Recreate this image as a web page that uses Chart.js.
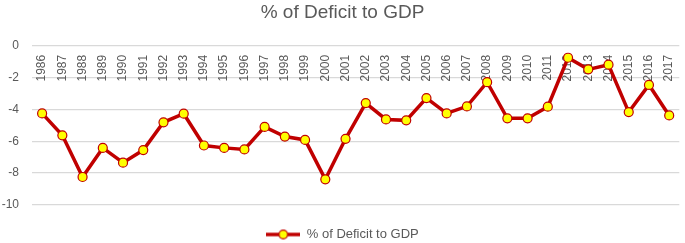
<!DOCTYPE html>
<html>
<head>
<meta charset="utf-8">
<script src="https://cdn.jsdelivr.net/npm/chart.js@4/dist/chart.umd.min.js"></script>
<style>
  html, body { margin: 0; padding: 0; background: #ffffff; }
  #wrap { width: 685px; height: 243px; }
</style>
</head>
<body>
<div id="wrap"><canvas id="c" width="685" height="243"></canvas></div>
<script>
const years = ['1986','1987','1988','1989','1990','1991','1992','1993','1994','1995','1996','1997','1998','1999','2000','2001','2002','2003','2004','2005','2006','2007','2008','2009','2010','2011','2012','2013','2014','2015','2016','2017'];
const deficit = [-4.25,-5.63,-8.25,-6.42,-7.35,-6.56,-4.81,-4.27,-6.27,-6.42,-6.52,-5.10,-5.71,-5.92,-8.40,-5.85,-3.60,-4.63,-4.69,-3.29,-4.25,-3.81,-2.29,-4.56,-4.56,-3.83,-0.75,-1.48,-1.19,-4.17,-2.46,-4.38];
const yTicks = [0, -2, -4, -6, -8, -10];
const seriesName = '% of Deficit to GDP';
const titleText = '% of Deficit to GDP';

const FONT = "'Liberation Sans', Arial, sans-serif";
const TEXT = '#595959';
const LINE = '#c00000';
const MARK = '#ffff00';

// legend symbol: line with marker
const sym = document.createElement('canvas');
sym.width = 34; sym.height = 12;
(function(){
  const g = sym.getContext('2d');
  g.strokeStyle = LINE; g.lineWidth = 3.5;
  g.beginPath(); g.moveTo(0, 6); g.lineTo(34, 6); g.stroke();
  g.beginPath(); g.arc(17, 6, 4.3, 0, Math.PI * 2);
  g.fillStyle = MARK; g.fill();
  g.lineWidth = 1.2; g.strokeStyle = LINE; g.stroke();
})();

const xLabelsPlugin = {
  id: 'xLabelsInside',
  beforeDatasetsDraw(chart) {
    const xs = chart.scales.x, ys = chart.scales.y;
    const ctx = chart.ctx;
    ctx.save();
    ctx.font = '12px ' + FONT;
    ctx.fillStyle = TEXT;
    ctx.textAlign = 'right';
    ctx.textBaseline = 'middle';
    const y0 = ys.getPixelForValue(0) + 9;
    chart.data.labels.forEach((lab, i) => {
      const x = xs.getPixelForValue(i);
      ctx.save();
      ctx.translate(x, y0);
      ctx.rotate(-Math.PI / 2);
      ctx.fillText(lab, 0, 0);
      ctx.restore();
    });
    ctx.restore();
  }
};

new Chart(document.getElementById('c'), {
  type: 'line',
  data: {
    labels: years,
    datasets: [{
      label: seriesName,
      data: deficit,
      borderColor: LINE,
      backgroundColor: MARK,
      borderWidth: 3.5,
      tension: 0,
      pointRadius: 4.5,
      pointHoverRadius: 4.5,
      pointBackgroundColor: MARK,
      pointBorderColor: LINE,
      pointBorderWidth: 1.2,
      pointStyle: 'circle',
      clip: false
    }]
  },
  options: {
    responsive: false,
    animation: false,
    devicePixelRatio: 1,
    layout: { padding: { left: 0, right: 0, top: 0, bottom: -8 } },
    plugins: {
      title: {
        display: true,
        text: titleText,
        color: TEXT,
        font: { family: FONT, size: 19, weight: 'normal' },
        padding: { top: 1, bottom: 22 }
      },
      legend: {
        display: true,
        position: 'bottom',
        labels: {
          color: TEXT,
          font: { family: FONT, size: 13 },
          usePointStyle: true,
          pointStyleWidth: 34,
          padding: 1.2,
          generateLabels(chart) {
            const items = Chart.defaults.plugins.legend.labels.generateLabels(chart);
            items.forEach(it => { it.pointStyle = sym; });
            return items;
          }
        }
      },
      tooltip: { enabled: false }
    },
    scales: {
      x: {
        type: 'category',
        display: true,
        offset: true,
        afterFit(scale) { scale.height = 22; },
        ticks: { display: false },
        grid: { display: false },
        border: { display: false }
      },
      y: {
        min: Math.min(...yTicks),
        max: Math.max(...yTicks),
        afterFit(scale) { scale.width = 32; },
        ticks: {
          stepSize: 2,
          color: TEXT,
          font: { family: FONT, size: 12 },
          padding: 13
        },
        grid: { color: '#d9d9d9', lineWidth: 1.3, drawTicks: false },
        border: { display: false }
      }
    }
  },
  plugins: [xLabelsPlugin]
});
</script>
</body>
</html>
